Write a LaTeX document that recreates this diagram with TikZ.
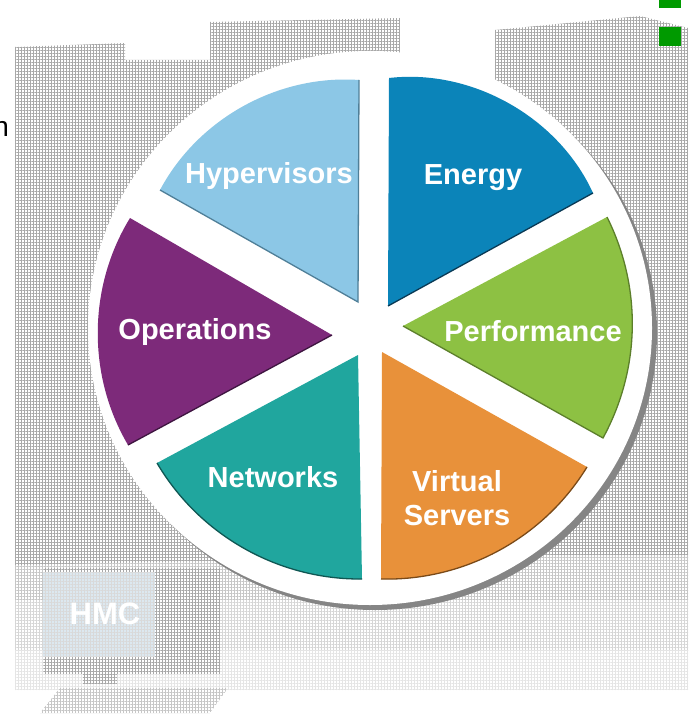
\documentclass[tikz,border=0pt]{standalone}
\usepackage{fontspec}
\usetikzlibrary{patterns.meta}
\setmainfont{Liberation Sans}
\definecolor{hyp}{HTML}{8CC7E6}
\definecolor{ene}{HTML}{0B84B9}
\definecolor{per}{HTML}{8DC143}
\definecolor{vir}{HTML}{E8913A}
\definecolor{net}{HTML}{20A69E}
\definecolor{ope}{HTML}{7D2A7A}
\definecolor{hypd}{HTML}{4F7F98}
\definecolor{ened}{HTML}{0A3A55}
\definecolor{perd}{HTML}{5C7F2B}
\definecolor{vird}{HTML}{7A4A18}
\definecolor{netd}{HTML}{0F5753}
\definecolor{oped}{HTML}{3E1540}
\definecolor{sqgreen}{HTML}{009A00}
\definecolor{dotgray}{HTML}{A8A8A8}
\definecolor{screenblue}{HTML}{DCE8F0}
\definecolor{shadowgray}{HTML}{858585}
\begin{document}
\begin{tikzpicture}[x=1pt,y=-1pt,
  seclabel/.style={text=white,font=\fontsize{29}{34}\selectfont\bfseries,anchor=base,inner sep=0pt},
  arcedge/.style={bend left=#1,looseness=0.91},
  darkedge/.style={draw=#1,line width=1.3pt},
  texture/.style={pattern={Hatch[distance=3pt,angle=0,line width=0.6pt]},pattern color=#1},
  texture/.default=dotgray]
\useasboundingbox (0,0) rectangle (688,722);
\fill[white] (0,0) rectangle (688,722);
% background texture (approximated, fading downwards)
\fill[texture=gray!45] (15,540) rectangle (688,600);
\fill[texture=gray!32] (15,600) rectangle (688,650);
\fill[texture=gray!20] (15,650) rectangle (688,690);
\fill[texture] (15,47) -- (125,43) -- (125,60) -- (210,60) -- (210,22) -- (400,18)
  -- (400,330) -- (250,560) -- (15,565) -- cycle;
\fill[texture] (495,30) -- (640,16) -- (688,28) -- (688,555) -- (495,555) -- cycle;
% monitor with HMC
\fill[white] (43,568) rectangle (220,673);
\fill[texture] (43,568) rectangle (220,673);
\fill[screenblue] (43,572) rectangle (155,657);
\fill[texture=gray!30] (43,572) rectangle (155,657);
\fill[texture] (83,670) rectangle (117,684);
\fill[white] (40,713) -- (60,688) -- (228,688) -- (210,713) -- cycle;
\fill[texture=gray!45] (40,713) -- (60,688) -- (228,688) -- (210,713) -- cycle;
\node[text=white,font=\fontsize{31}{36}\selectfont\bfseries,anchor=base,inner sep=0pt] (hmc) at (105,624) {HMC};
% cut text at left edge
\node[text=black,font=\fontsize{28}{32}\selectfont,anchor=base west,inner sep=0pt] (cut) at (-6.7,137) {n};
% green squares
\fill[sqgreen] (659,0) rectangle (681,8);
\fill[sqgreen] (659,27) rectangle (681,46);
% main disc
\fill[shadowgray] (375,333) ellipse [x radius=282pt, y radius=277pt];
\fill[white] (370,328) ellipse [x radius=282pt, y radius=277pt];
% sectors
\coordinate (hT) at (358,302); \coordinate (hA) at (160,190); \coordinate (hB) at (359,80);
\coordinate (eT) at (388,306); \coordinate (eA) at (389,78);  \coordinate (eB) at (593,193);
\coordinate (pT) at (403,326); \coordinate (pA) at (607,217); \coordinate (pB) at (603,438);
\coordinate (vT) at (382,352); \coordinate (vA) at (587,467); \coordinate (vB) at (381,579);
\coordinate (nT) at (358,355); \coordinate (nA) at (362,579); \coordinate (nB) at (157,463);
\coordinate (oT) at (332,335); \coordinate (oA) at (128,445); \coordinate (oB) at (130,218);
\fill[hyp] (hT) -- (hA) to[arcedge=33] (hB) -- cycle;
\fill[ene] (eT) -- (eA) to[arcedge=36] (eB) -- cycle;
\fill[per] (pT) -- (pA) to[arcedge=27.5] (pB) -- cycle;
\fill[vir] (vT) -- (vA) to[arcedge=30] (vB) -- cycle;
\fill[net] (nT) -- (nA) to[arcedge=30] (nB) -- cycle;
\fill[ope] (oT) -- (oA) to[arcedge=31] (oB) -- cycle;
% darker lower edges
\draw[darkedge=hypd] (hA) -- (hT) -- (hB);
\draw[darkedge=ened] (eT) -- (eB);
\draw[darkedge=perd] (pA) to[arcedge=27.5] (pB) -- (pT);
\draw[darkedge=vird] (vA) to[arcedge=30] (vB);
\draw[darkedge=netd] (nA) to[arcedge=30] (nB);
\draw[darkedge=oped] (oT) -- (oA);
% labels
\node[seclabel] (lh) at (269,183) {Hypervisors};
\node[seclabel] (le) at (473,185) {Energy};
\node[seclabel] (lp) at (533,341) {Performance};
\node[seclabel] (lo) at (195,339) {Operations};
\node[seclabel] (ln) at (273,487) {Networks};
\node[seclabel] (lv1) at (457,491) {Virtual};
\node[seclabel] (lv2) at (457,525) {Servers};
\end{tikzpicture}
\end{document}
